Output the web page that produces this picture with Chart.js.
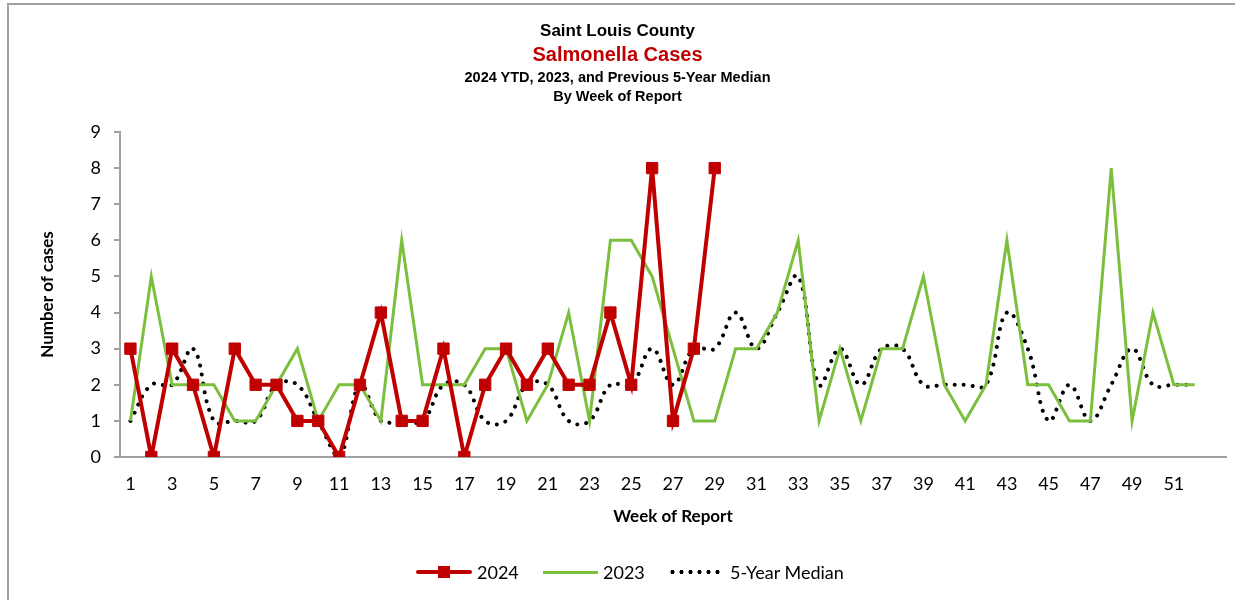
<!DOCTYPE html>
<html>
<head>
<meta charset="utf-8">
<script src="https://cdn.jsdelivr.net/npm/chart.js@4.4.1/dist/chart.umd.min.js"></script>
<style>
  html, body { margin: 0; padding: 0; background: #fff; }
  #wrap { position: relative; width: 1235px; height: 600px; overflow: hidden; }
  #frame { position: absolute; left: 7px; top: 3px; width: 1240px; height: 610px;
           border-left: 2px solid #a0a0a0; border-top: 2px solid #a0a0a0; }
  #chart { position: absolute; left: 0; top: 0; }
  .ttl { position: absolute; left: 0; width: 1235px; text-align: center;
         font-family: "Liberation Sans", Arial, sans-serif; font-weight: bold; color: #000; }
  #legend { position: absolute; top: 560px; left: 0; width: 1235px; height: 24px;
            font-family: Lato, "Open Sans", sans-serif; font-size: 18px; color: #000; }
  .item { position: absolute; top: 0; height: 24px; line-height: 24px; }
  .sample { position: absolute; top: 0; height: 24px; }
</style>
</head>
<body>
<div id="wrap">
  <div id="frame"></div>
  <canvas id="chart" width="1235" height="600"></canvas>
  <div class="ttl" style="top:21px;font-size:17px;">Saint Louis County</div>
  <div class="ttl" style="top:43px;font-size:20px;color:#c00000;">Salmonella Cases</div>
  <div class="ttl" style="top:69px;font-size:14.5px;">2024 YTD, 2023, and Previous 5-Year Median</div>
  <div class="ttl" style="top:88px;font-size:14.5px;">By Week of Report</div>
  <div id="legend">
    <div class="sample" style="left:416px;width:56px;">
      <div style="position:absolute;left:0;top:10px;width:56px;height:4px;background:#c00000;border-radius:2px;"></div>
      <div style="position:absolute;left:22px;top:6px;width:12px;height:12px;background:#c00000;"></div>
    </div>
    <div class="item" style="left:477px;">2024</div>
    <div class="sample" style="left:543px;width:55px;">
      <div style="position:absolute;left:0;top:11px;width:55px;height:3px;background:#7cbf3e;"></div>
    </div>
    <div class="item" style="left:603px;">2023</div>
    <div class="sample" style="left:668px;width:56px;">
      <div style="position:absolute;left:0;top:10px;width:56px;height:4px;
        background-image:radial-gradient(circle, #000 1.9px, transparent 2.2px);
        background-size:9px 4px;"></div>
    </div>
    <div class="item" style="left:730px;">5-Year Median</div>
  </div>
</div>
<script>
/* Saint Louis County - Salmonella cases by week of report */

const COLOR_RED = "#c00000";
const COLOR_GREEN = "#7cbf3e";
const AXIS_GRAY = "#a0a0a0";

/* Data */
const weeks = [];
for (let w = 1; w <= 53; w++) weeks.push(String(w));  // 53 category slots, last one empty

const cases2024 = [3,0,3,2,0,3,2,2,1,1,0,2,4,1,1,3,0,2,3,2,3,2,2,4,2,8,1,3,8];
const cases2023 = [1,5,2,2,2,1,1,2,3,1,2,2,1,6,2,2,2,3,3,1,2,4,1,6,6,5,3,1,1,3,
                   3,4,6,1,3,1,3,3,5,2,1,2,6,2,2,1,1,8,1,4,2,2];
const median5yr = [1,2,2,3,1,1,1,2,2,1,0,2,1,1,1,2,2,1,1,2,2,1,1,2,2,3,2,3,3,4,
                   3,4,5,2,3,2,3,3,2,2,2,2,4,3,1,2,1,2,3,2,2,2];
const yTicks = [0,1,2,3,4,5,6,7,8,9];

const TICK_FONT = { family: 'Lato, "Open Sans", sans-serif', size: 18 };
const TITLE_FONT = { family: 'Lato, "Open Sans", sans-serif', size: 17, weight: 'bold' };

const ctx = document.getElementById('chart').getContext('2d');

const chart = new Chart(ctx, {
  type: 'line',
  data: {
    labels: weeks,
    datasets: [
      {
        label: '5-Year Median',
        data: median5yr,
        borderColor: '#000',
        borderWidth: 4,
        borderDash: [0.01, 9],
        borderCapStyle: 'round',
        tension: 0.4,
        pointRadius: 0,
        fill: false,
        order: 3
      },
      {
        label: '2023',
        data: cases2023,
        borderColor: COLOR_GREEN,
        borderWidth: 3,
        tension: 0,
        pointRadius: 0,
        fill: false,
        order: 2
      },
      {
        label: '2024',
        data: cases2024,
        borderColor: COLOR_RED,
        backgroundColor: COLOR_RED,
        borderWidth: 4,
        tension: 0,
        pointStyle: 'rect',
        pointRadius: 8,
        pointBorderWidth: 1,
        pointBorderColor: COLOR_RED,
        pointBackgroundColor: COLOR_RED,
        fill: false,
        order: 1
      }
    ]
  },
  options: {
    responsive: false,
    animation: false,
    layout: { padding: { top: 132, right: 6, bottom: 0, left: 0 } },
    plugins: {
      legend: { display: false },
      title: { display: false },
      tooltip: { enabled: false }
    },
    scales: {
      x: {
        type: 'category',
        offset: true,
        grid: { display: false, drawTicks: false },
        border: { color: AXIS_GRAY, width: 2 },
        ticks: {
          color: '#000',
          font: TICK_FONT,
          autoSkip: false,
          maxRotation: 0,
          padding: 16,
          callback(value, index) {
            return (index % 2 === 0 && index < 52) ? weeks[index] : '';
          }
        },
        title: {
          display: true,
          text: 'Week of Report',
          color: '#000',
          font: TITLE_FONT,
          padding: { top: 0, bottom: 73 }
        },
        afterFit(scale) { scale.height = 143; }
      },
      y: {
        min: 0,
        max: 9,
        afterBuildTicks(scale) { scale.ticks = yTicks.map(v => ({ value: v })); },
        grid: { drawOnChartArea: false, drawTicks: true, tickLength: 6, color: AXIS_GRAY, lineWidth: 2 },
        border: { color: AXIS_GRAY, width: 2 },
        ticks: { color: '#000', font: TICK_FONT, padding: 13 },
        title: {
          display: true,
          text: 'Number of cases',
          color: '#000',
          font: TITLE_FONT,
          padding: { top: 37, bottom: 0 }
        },
        afterFit(scale) { scale.width = 120; }
      }
    }
  }
});
</script>
</body>
</html>
